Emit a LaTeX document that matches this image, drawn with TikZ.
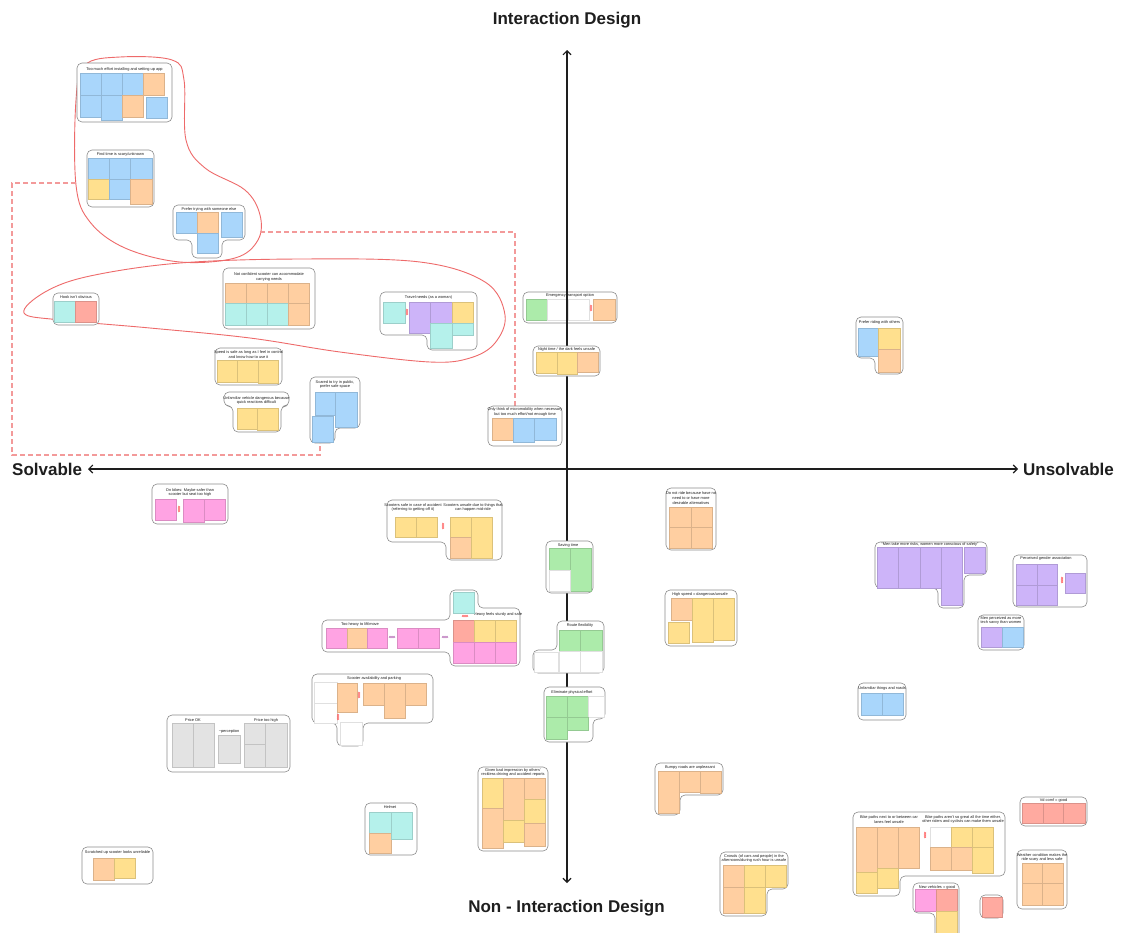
\documentclass[tikz,border=0pt]{standalone}
\usepackage{fontspec}
\setmainfont{Liberation Sans}
\usetikzlibrary{arrows.meta}

\definecolor{nblue}{HTML}{A9D6FB}
\definecolor{norange}{HTML}{FFCFA1}
\definecolor{nyellow}{HTML}{FFE08E}
\definecolor{ngreen}{HTML}{ACEBAA}
\definecolor{nteal}{HTML}{B5F1EB}
\definecolor{npink}{HTML}{FFA3E3}
\definecolor{npurple}{HTML}{CDB4F9}
\definecolor{nred}{HTML}{FFAAA0}
\definecolor{ngray}{HTML}{E3E3E3}
\definecolor{loopred}{HTML}{EE6A6A}
\definecolor{linkred}{HTML}{F39A9A}
\definecolor{inkdark}{HTML}{1E1E1E}

\tikzset{
  frame/.style={draw=black!45, line width=0.6pt, fill=white, rounded corners=5pt},
  ttl/.style={font=\fontsize{3.9}{4.7}\selectfont, align=center, inner sep=0pt, text=inkdark},
  axisline/.style={line width=1.1pt, draw=inkdark, {Straight Barb[length=4pt,width=8pt]}-{Straight Barb[length=4pt,width=8pt]}},
  axlabel/.style={font=\fontsize{17}{20}\selectfont\bfseries, text=inkdark, inner sep=0pt},
  loopline/.style={draw=loopred, line width=0.9pt},
  link/.style={draw=linkred, line width=1.2pt, dash pattern=on 5pt off 3pt},
}

% sticky note: x, y, width, height, colour
\newcommand\sn[5]{\filldraw[fill=#5, draw=#5!86!black, line width=0.3pt] (#1,#2) rectangle ++(#3,#4);}
% white sticky note
\newcommand\wn[4]{\filldraw[fill=white, draw=black!12, line width=0.3pt] (#1,#2) rectangle ++(#3,#4);}
% plain rectangular cluster frame
\newcommand\clbox[4]{\draw[frame] (#1,#2) rectangle (#3,#4);}
% small vertical squiggle marker
\newcommand\squig[3]{\draw[#3, line width=0.5pt] (#1-0.8,#2-3) -- ++(1.6,1) -- ++(-1.6,1) -- ++(1.6,1) -- ++(-1.6,1) -- ++(1.6,1) -- ++(-1.6,1);}
% small horizontal squiggle marker
\newcommand\hsquig[3]{\draw[#3, line width=0.5pt] (#1-3,#2+0.8) -- ++(1,-1.6) -- ++(1,1.6) -- ++(1,-1.6) -- ++(1,1.6) -- ++(1,-1.6) -- ++(1,1.6);}

\begin{document}
\begin{tikzpicture}[x=1pt, y=-1pt]
\useasboundingbox (0,0) rectangle (1126,932);
\fill[white] (0,0) rectangle (1126,932);

% ---------- cluster lying under the vertical axis ----------
\clbox{523}{292}{617}{323}
\node[ttl] (t-emerg) at (570,295.5) {Emergency transport option};
\sn{526}{299}{21}{21}{ngreen}
\wn{547}{299}{21}{21}
\wn{568}{299}{21}{21}
\squig{591}{308}{red!80}
\sn{593}{299}{22}{21}{norange}

% ---------- axes ----------
\coordinate (axT) at (567,50);
\coordinate (axB) at (567,883);
\coordinate (axL) at (88,469);
\coordinate (axR) at (1018,469);
\draw[axisline] (axT) -- (axB);
\draw[axisline] (axL) -- (axR);
\node[axlabel] (lab-top) at (567,20) {Interaction Design};
\node[axlabel] (lab-bot) at (566.5,908.5) {Non - Interaction Design};
\node[axlabel, anchor=west] (lab-l) at (12,469) {Solvable};
\node[axlabel, anchor=east] (lab-r) at (1114,469) {Unsolvable};

% ---------- red grouping outlines ----------
\draw[loopline] plot[smooth cycle, tension=0.6] coordinates {
  (120,57) (172,60) (184,80) (186,140) (205,168) (245,190) (260,215)
  (258,240) (235,258) (180,262) (125,248) (90,222) (76,185) (76,100) (85,65)};
\draw[loopline] plot[smooth cycle, tension=0.6] coordinates {
  (24,313) (45,292) (90,276) (180,263) (300,259) (420,262) (485,282)
  (505,315) (495,343) (470,358) (430,362) (340,352) (250,338) (150,328) (60,320)};

% ---------- dashed links ----------
\coordinate (blobW) at (76,183);
\coordinate (blobE) at (260,232);
\coordinate (scaredB) at (320,443);
\coordinate (onlyT) at (515,406);
\draw[link] (blobW) -- (12,183) -- (12,455) -| (scaredB);
\draw[link] (blobE) -| (onlyT);

% ---------- top-left group ----------
\clbox{77}{63}{172}{122}
\node[ttl] (t-effort) at (124.5,69) {Too much effort installing and setting up app};
\sn{80}{73}{21}{22}{nblue}
\sn{101}{73}{21}{22}{nblue}
\sn{122}{73}{21}{22}{nblue}
\sn{143}{73}{21}{22}{norange}
\sn{80}{95}{21}{22}{nblue}
\sn{101}{95}{21}{25}{nblue}
\sn{122}{95}{21}{22}{norange}
\sn{146}{97}{21}{21}{nblue}

\clbox{87}{150}{154}{207}
\node[ttl] (t-find) at (120.5,154.5) {Find time is scary/unknown};
\sn{88}{158}{21}{21}{nblue}
\sn{109}{158}{21}{21}{nblue}
\sn{130}{158}{22}{21}{nblue}
\sn{88}{179}{21}{20}{nyellow}
\sn{109}{179}{21}{20}{nblue}
\sn{130}{179}{22}{25}{norange}

\draw[frame] (173,205) -- (245,205) -- (245,240) -- (222,240) -- (222,258) -- (192,258) -- (192,240) -- (173,240) -- cycle;
\node[ttl] (t-prefer) at (209,209) {Prefer trying with someone else};
\sn{176}{212}{21}{21}{nblue}
\sn{197}{212}{21}{21}{norange}
\sn{197}{233}{21}{20}{nblue}
\sn{221}{212}{21}{25}{nblue}

% ---------- second loop ----------
\clbox{53}{293}{99}{325}
\node[ttl] (t-hook) at (76,297.5) {Hook isn't obvious};
\sn{54.5}{301}{21}{21}{nteal}
\sn{75.5}{301}{21}{21}{nred}

\clbox{223}{268}{315}{329}
\node[ttl] (t-carry) at (269,277) {Not confident scooter can accommodate\\carrying needs};
\sn{225}{283}{21}{20}{norange}
\sn{246}{283}{21}{20}{norange}
\sn{267}{283}{21}{20}{norange}
\sn{288}{283}{21}{20}{norange}
\sn{225}{303}{21}{22}{nteal}
\sn{246}{303}{21}{22}{nteal}
\sn{267}{303}{21}{22}{nteal}
\sn{288}{303}{21}{22}{norange}

\draw[frame] (380,292) -- (477,292) -- (477,350) -- (427,350) -- (427,335) -- (380,335) -- cycle;
\node[ttl] (t-travel) at (428.5,297) {Travel needs (as a woman)};
\sn{383}{302}{22}{21}{nteal}
\squig{407}{312}{red!80}
\sn{409}{302}{21}{31}{npurple}
\sn{430}{302}{22}{21}{npurple}
\sn{452}{302}{21}{21}{nyellow}
\sn{430}{323}{22}{25}{nteal}
\sn{452}{323}{21}{12}{nteal}

% ---------- left, above the horizontal axis ----------
\clbox{215}{348}{282}{385}
\node[ttl] (t-speed) at (248.5,354.5) {Speed is safe as long as I feel in control\\and know how to use it};
\sn{217}{360}{20}{22}{nyellow}
\sn{237}{360}{21}{22}{nyellow}
\sn{258}{360}{20}{23}{nyellow}

\draw[frame] (224,392) -- (289,392) -- (289,406) -- (281,406) -- (281,432) -- (233,432) -- (233,406) -- (224,406) -- cycle;
\node[ttl] (t-unfam) at (256.5,400.5) {Unfamiliar vehicle dangerous because\\quick reactions difficult};
\sn{237}{408}{20}{21}{nyellow}
\sn{257}{408}{21}{22}{nyellow}

\draw[frame] (310,377) -- (360,377) -- (360,428) -- (335,428) -- (335,443) -- (310,443) -- cycle;
\node[ttl] (t-scared) at (335,384.5) {Scared to try in public,\\prefer safe space};
\sn{315}{392}{20}{23}{nblue}
\sn{335}{392}{22}{35}{nblue}
\sn{312}{416}{21}{26}{nblue}

% ---------- centre, above the horizontal axis ----------
\clbox{533}{346}{600}{376}
\node[ttl] (t-night) at (566.5,349.5) {Night time / the dark feels unsafe};
\sn{536}{352}{21}{21}{nyellow}
\sn{557}{352}{20}{22}{nyellow}
\sn{577}{352}{21}{20}{norange}

\clbox{488}{406}{562}{446}
\node[ttl] (t-only) at (525,412) {Only think of micromobility when necessary\\but too much effort/not enough time};
\sn{492}{418}{21}{22}{norange}
\sn{513}{418}{21}{24}{nblue}
\sn{534}{418}{22}{22}{nblue}

% ---------- right, above the horizontal axis ----------
\draw[frame] (856,317) -- (903,317) -- (903,374) -- (875,374) -- (875,358) -- (856,358) -- cycle;
\node[ttl] (t-others) at (879.5,322.5) {Prefer riding with others};
\sn{858}{328}{20}{28}{nblue}
\sn{878}{328}{22}{21}{nyellow}
\sn{878}{349}{22}{23}{norange}

% ---------- left, below the horizontal axis ----------
\clbox{152}{484}{228}{524}
\node[ttl] (t-bikes) at (190,492.5) {On bikes: Maybe safer than\\scooter but seat too high};
\sn{155}{499}{21}{21}{npink}
\squig{179}{509}{red!80}
\sn{183}{499}{21}{23}{npink}
\sn{204}{499}{21}{21}{npink}

\draw[frame] (387,500) -- (502,500) -- (502,560) -- (446,560) -- (446,542) -- (387,542) -- cycle;
\node[ttl] (t-safe) at (413,507.5) {Scooters safe in case of accident\\(referring to getting off it)};
\node[ttl] (t-unsafe) at (473,507.5) {Scooters unsafe due to things that\\can happen mid-ride};
\sn{395}{517}{21}{20}{nyellow}
\sn{416}{517}{21}{20}{nyellow}
\squig{443}{526}{red!80}
\sn{450}{517}{21}{20}{nyellow}
\sn{450}{537}{21}{21}{norange}
\sn{471}{517}{21}{41}{nyellow}

\draw[frame] (322,620) -- (450,620) -- (450,590) -- (478,590) -- (478,608) -- (520,608) -- (520,666) -- (450,666) -- (450,652) -- (322,652) -- cycle;
\node[ttl] (t-heavy) at (360,624.5) {Too heavy to lift/move};
\node[ttl] (t-sturdy) at (498,614.5) {Heavy feels sturdy and safe};
\sn{326}{628}{21}{20}{npink}
\sn{347}{628}{20}{20}{norange}
\sn{367}{628}{20}{20}{npink}
\hsquig{392}{637}{violet!70}
\sn{397}{628}{21}{20}{npink}
\sn{418}{628}{21}{20}{npink}
\hsquig{445}{637}{violet!70}
\sn{453}{592}{21}{21}{nteal}
\hsquig{465}{616}{red!80}
\sn{453}{620}{21}{22}{nred}
\sn{474}{620}{21}{22}{nyellow}
\sn{495}{620}{21}{22}{nyellow}
\sn{453}{642}{21}{21}{npink}
\sn{474}{642}{21}{21}{npink}
\sn{495}{642}{21}{21}{npink}

\draw[frame] (312,674) -- (433,674) -- (433,723) -- (363,723) -- (363,746) -- (337,746) -- (337,723) -- (312,723) -- cycle;
\node[ttl] (t-park) at (374,678) {Scooter availability and parking};
\wn{314}{682}{23}{21}
\wn{314}{703}{23}{20}
\sn{337}{683}{20}{29}{norange}
\squig{359}{695}{red!80}
\sn{363}{683}{21}{22}{norange}
\sn{384}{683}{21}{35}{norange}
\sn{405}{683}{21}{22}{norange}
\wn{340}{722}{22}{23}
\squig{338}{717}{red!80}

\clbox{167}{715}{290}{772}
\node[ttl] (t-pok) at (193,720) {Price OK};
\node[ttl] (t-perc) at (229,731) {\textasciitilde perception};
\node[ttl] (t-phigh) at (266,720) {Price too high};
\sn{172}{723}{21}{44}{ngray}
\sn{193}{723}{21}{44}{ngray}
\sn{218}{735}{22}{28}{ngray}
\sn{244}{723}{21}{21}{ngray}
\sn{244}{744}{21}{23}{ngray}
\sn{265}{723}{22}{44}{ngray}

\clbox{365}{803}{417}{855}
\node[ttl] (t-helmet) at (390,807.5) {Helmet};
\sn{369}{812}{22}{21}{nteal}
\sn{369}{833}{22}{20}{norange}
\sn{391}{812}{21}{27}{nteal}

\clbox{82}{847}{153}{884}
\node[ttl] (t-scratch) at (117.5,852) {Scratched up scooter looks unreliable};
\sn{93}{858}{21}{22}{norange}
\sn{114}{858}{21}{20}{nyellow}

% ---------- centre, below the horizontal axis ----------
\clbox{546}{541}{593}{593}
\node[ttl] (t-time) at (568,545) {Saving time};
\sn{549}{548}{21}{22}{ngreen}
\sn{570}{548}{21}{43}{ngreen}
\wn{549}{570}{21}{21}

\draw[frame] (557,621) -- (604,621) -- (604,673) -- (533,673) -- (533,650) -- (557,650) -- cycle;
\node[ttl] (t-route) at (580,625) {Route flexibility};
\sn{559}{630}{21}{21}{ngreen}
\sn{580}{630}{22}{21}{ngreen}
\wn{559}{651}{21}{21}
\wn{580}{651}{22}{21}
\wn{534}{652}{24}{20}

\draw[frame] (544,687) -- (605,687) -- (605,719) -- (593,719) -- (593,742) -- (544,742) -- cycle;
\node[ttl] (t-effort2) at (572,692) {Eliminate physical effort};
\sn{546}{696}{21}{21}{ngreen}
\sn{567}{696}{21}{21}{ngreen}
\wn{588}{696}{16}{21}
\sn{546}{717}{21}{22}{ngreen}
\sn{567}{717}{21}{13}{ngreen}

\clbox{478}{767}{548}{851}
\node[ttl] (t-bad) at (513,772.5) {Given bad impression by others'\\reckless driving and accident reports};
\sn{482}{778}{21}{30}{nyellow}
\sn{482}{808}{21}{40}{norange}
\sn{503}{778}{21}{42}{norange}
\sn{503}{820}{21}{22}{nyellow}
\sn{524}{778}{21}{21}{norange}
\sn{524}{799}{21}{24}{nyellow}
\sn{524}{823}{21}{23}{norange}

% ---------- right, below the horizontal axis ----------
\clbox{666}{488}{716}{550}
\node[ttl] (t-noneed) at (691,498) {Do not ride because have no\\need to or have more\\desirable alternatives};
\sn{669}{507}{22}{20}{norange}
\sn{691}{507}{21}{20}{norange}
\sn{669}{527}{22}{21}{norange}
\sn{691}{527}{21}{21}{norange}

\clbox{665}{590}{737}{646}
\node[ttl] (t-hspeed) at (700,594.5) {High speed = dangerous/unsafe};
\sn{671}{598}{21}{22}{norange}
\sn{668}{622}{21}{21}{nyellow}
\sn{692}{598}{21}{44}{nyellow}
\sn{713}{598}{21}{42}{nyellow}

\draw[frame] (875,542) -- (987,542) -- (987,575) -- (964,575) -- (964,608) -- (938,608) -- (938,588) -- (875,588) -- cycle;
\node[ttl] (t-risk) at (930,544.5) {\textquotedblleft Men take more risks, women more conscious of safety\textquotedblright};
\sn{877}{547}{21}{41}{npurple}
\sn{898}{547}{22}{41}{npurple}
\sn{920}{547}{21}{41}{npurple}
\sn{941}{547}{21}{58}{npurple}
\sn{964}{547}{21}{26}{npurple}

\clbox{1013}{555}{1087}{607}
\node[ttl] (t-gender) at (1046,558.5) {Perceived gender association};
\sn{1016}{564}{21}{21}{npurple}
\sn{1037}{564}{20}{21}{npurple}
\sn{1016}{585}{21}{20}{npurple}
\sn{1037}{585}{20}{20}{npurple}
\squig{1062}{580}{red!80}
\sn{1065}{573}{20}{20}{npurple}

\clbox{978}{615}{1024}{650}
\node[ttl] (t-savvy) at (1001,620.5) {Men perceived as more\\tech savvy than women};
\sn{981}{627}{21}{20}{npurple}
\sn{1002}{627}{21}{20}{nblue}

\clbox{858}{683}{906}{720}
\node[ttl] (t-roads) at (882,688) {Unfamiliar things and roads};
\sn{861}{693}{21}{22}{nblue}
\sn{882}{693}{21}{22}{nblue}

\draw[frame] (655,763) -- (723,763) -- (723,795) -- (680,795) -- (680,815) -- (655,815) -- cycle;
\node[ttl] (t-bumpy) at (690,767) {Bumpy roads are unpleasant};
\sn{658}{771}{21}{42}{norange}
\sn{679}{771}{21}{21}{norange}
\sn{700}{771}{21}{22}{norange}

\draw[frame] (720,852) -- (788,852) -- (788,889) -- (767,889) -- (767,916) -- (720,916) -- cycle;
\node[ttl] (t-crowd) at (754,858.5) {Crowds (of cars and people) in the\\afternoons/during rush hour is unsafe};
\sn{723}{865}{21}{22}{norange}
\sn{723}{887}{21}{26}{norange}
\sn{744}{865}{21}{22}{nyellow}
\sn{744}{887}{21}{26}{nyellow}
\sn{765}{865}{21}{22}{nyellow}

\draw[frame] (853,812) -- (1005,812) -- (1005,876) -- (900,876) -- (900,896) -- (853,896) -- cycle;
\node[ttl] (t-lanes) at (889,819.5) {Bike paths next to or between car\\lanes feel unsafe};
\node[ttl] (t-paths) at (963,819.5) {Bike paths aren't so great all the time either,\\other riders and cyclists can make them unsafe};
\sn{856}{827}{21}{45}{norange}
\sn{856}{872}{21}{21}{nyellow}
\sn{877}{827}{21}{41}{norange}
\sn{877}{868}{21}{20}{nyellow}
\sn{898}{827}{21}{41}{norange}
\squig{925}{835}{red!80}
\wn{930}{827}{21}{20}
\sn{951}{827}{21}{20}{nyellow}
\sn{972}{827}{21}{20}{nyellow}
\sn{930}{847}{21}{23}{norange}
\sn{951}{847}{21}{23}{norange}
\sn{972}{847}{21}{26}{nyellow}

\draw[frame] (913,883) -- (959,883) -- (959,940) -- (935,940) -- (935,913) -- (913,913) -- cycle;
\node[ttl] (t-newveh) at (937,887) {New vehicles = good};
\sn{915}{889}{21}{22}{npink}
\sn{936}{889}{21}{22}{nred}
\sn{936}{911}{21}{23}{nyellow}

\clbox{980}{895}{1003}{918}
\sn{982}{897}{20}{20}{nred}

\clbox{1020}{797}{1087}{826}
\node[ttl] (t-comf) at (1053.5,800.5) {Vd comf = good};
\sn{1022}{803}{21}{20}{nred}
\sn{1043}{803}{20}{20}{nred}
\sn{1063}{803}{22}{20}{nred}

\clbox{1017}{850}{1067}{909}
\node[ttl] (t-weather) at (1042,857.5) {Weather condition makes the\\ride scary and less safe};
\sn{1022}{863}{20}{20}{norange}
\sn{1042}{863}{21}{20}{norange}
\sn{1022}{883}{20}{22}{norange}
\sn{1042}{883}{21}{22}{norange}
\end{tikzpicture}
\end{document}
